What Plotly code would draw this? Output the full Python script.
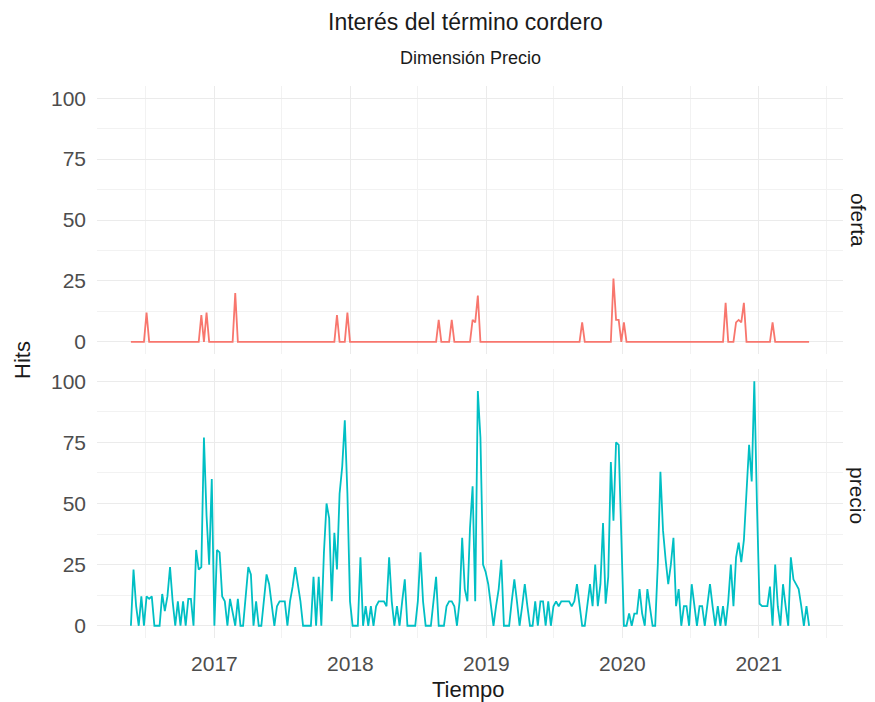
import pandas as pd
import plotly.graph_objects as go

# ---------------- data ----------------
start_date = "2016-05-22"
n_weeks = 261
fechas = pd.date_range(start_date, periods=n_weeks, freq="7D")

oferta = [
    0, 0, 0, 0, 0, 0, 12, 0, 0, 0,
    0, 0, 0, 0, 0, 0, 0, 0, 0, 0,
    0, 0, 0, 0, 0, 0, 0, 11, 0, 12,
    0, 0, 0, 0, 0, 0, 0, 0, 0, 0,
    20, 0, 0, 0, 0, 0, 0, 0, 0, 0,
    0, 0, 0, 0, 0, 0, 0, 0, 0, 0,
    0, 0, 0, 0, 0, 0, 0, 0, 0, 0,
    0, 0, 0, 0, 0, 0, 0, 0, 0, 11,
    0, 0, 0, 12, 0, 0, 0, 0, 0, 0,
    0, 0, 0, 0, 0, 0, 0, 0, 0, 0,
    0, 0, 0, 0, 0, 0, 0, 0, 0, 0,
    0, 0, 0, 0, 0, 0, 0, 0, 9, 0,
    0, 0, 0, 9, 0, 0, 0, 0, 0, 0,
    0, 9, 8, 19, 0, 0, 0, 0, 0, 0,
    0, 0, 0, 0, 0, 0, 0, 0, 0, 0,
    0, 0, 0, 0, 0, 0, 0, 0, 0, 0,
    0, 0, 0, 0, 0, 0, 0, 0, 0, 0,
    0, 0, 0, 8, 0, 0, 0, 0, 0, 0,
    0, 0, 0, 0, 0, 26, 9, 9, 0, 8,
    0, 0, 0, 0, 0, 0, 0, 0, 0, 0,
    0, 0, 0, 0, 0, 0, 0, 0, 0, 0,
    0, 0, 0, 0, 0, 0, 0, 0, 0, 0,
    0, 0, 0, 0, 0, 0, 0, 0, 16, 0,
    0, 0, 8, 9, 8, 16, 0, 0, 0, 0,
    0, 0, 0, 0, 0, 0, 8, 0, 0, 0,
    0, 0, 0, 0, 0, 0, 0, 0, 0, 0,
    0,
]

precio = [
    0, 23, 8, 0, 12, 0, 12, 11, 12, 0,
    0, 0, 13, 6, 12, 24, 10, 0, 10, 0,
    10, 0, 11, 11, 0, 31, 23, 24, 77, 45,
    25, 60, 0, 31, 30, 12, 10, 0, 11, 5,
    0, 11, 0, 0, 12, 24, 21, 0, 10, 0,
    0, 10, 21, 17, 8, 0, 8, 10, 10, 10,
    0, 10, 16, 24, 17, 10, 0, 0, 0, 0,
    20, 0, 20, 0, 30, 50, 44, 10, 38, 23,
    54, 65, 84, 54, 10, 0, 0, 0, 28, 0,
    8, 0, 8, 0, 8, 10, 10, 10, 8, 28,
    10, 0, 8, 0, 10, 19, 0, 0, 0, 0,
    10, 30, 10, 0, 0, 0, 10, 20, 0, 0,
    0, 8, 10, 10, 8, 0, 10, 36, 15, 10,
    40, 57, 10, 96, 77, 25, 22, 17, 8, 0,
    8, 15, 27, 0, 0, 0, 10, 19, 10, 0,
    8, 17, 8, 0, 0, 10, 0, 10, 10, 0,
    10, 0, 8, 10, 8, 10, 10, 10, 10, 8,
    10, 17, 8, 0, 0, 8, 17, 8, 25, 8,
    17, 42, 9, 20, 67, 43, 75, 74, 35, 0,
    0, 5, 0, 5, 5, 15, 5, 0, 15, 8,
    0, 0, 25, 63, 39, 27, 17, 25, 36, 8,
    15, 0, 8, 8, 0, 17, 8, 0, 8, 8,
    0, 8, 17, 8, 0, 8, 0, 8, 0, 10,
    25, 8, 28, 34, 26, 35, 53, 74, 59, 100,
    50, 9, 8, 8, 8, 16, 0, 25, 8, 0,
    17, 8, 0, 28, 19, 17, 15, 8, 0, 8,
    0,
]

year_ticks = ["2017-01-01", "2018-01-01", "2019-01-01", "2020-01-01", "2021-01-01"]
year_labels = ["2017", "2018", "2019", "2020", "2021"]
half_year_ticks = ["2016-07-01", "2017-07-01", "2018-07-01", "2019-07-01",
                   "2020-07-01", "2021-07-01"]
y_ticks = [0, 25, 50, 75, 100]
y_minor = [12.5, 37.5, 62.5, 87.5]

title = "Interés del término cordero"
subtitle = "Dimensión Precio"
facet_labels = ["oferta", "precio"]

# ---------------- style ----------------
FONT = "Liberation Sans, Arial, Helvetica, sans-serif"
GRID = "#EBEBEB"
GRID_MINOR = "#F2F2F2"
COL_OFERTA = "#F8766D"
COL_PRECIO = "#00BFC4"

W, H = 875, 702
ML, MR, MT, MB = 97, 32, 86, 64
PH = H - MT - MB
PW = W - ML - MR


def py(p):
    return (H - MB - p) / PH


def px(p):
    return (p - ML) / PW


fig = go.Figure()
fig.add_trace(go.Scatter(x=fechas, y=oferta, mode="lines", xaxis="x2", yaxis="y2",
                         line=dict(color=COL_OFERTA, width=1.8), showlegend=False,
                         name="oferta"))
fig.add_trace(go.Scatter(x=fechas, y=precio, mode="lines", xaxis="x", yaxis="y",
                         line=dict(color=COL_PRECIO, width=1.8), showlegend=False,
                         name="precio"))

xrange = ["2016-02-21", "2021-08-15"]
xcommon = dict(range=xrange, tickmode="array", tickvals=year_ticks, ticktext=year_labels,
               showgrid=True, gridcolor=GRID, gridwidth=1.1, zeroline=False,
               showline=False, ticks="",
               minor=dict(tickmode="array", tickvals=half_year_ticks, showgrid=True,
                          gridcolor=GRID_MINOR, gridwidth=0.8, ticks=""),
               tickfont=dict(family=FONT, size=21, color="#4D4D4D"))
ycommon = dict(range=[-5, 105], tickmode="array", tickvals=y_ticks,
               showgrid=True, gridcolor=GRID, gridwidth=1.1, zeroline=False,
               showline=False, ticks="", ticklabelstandoff=10,
               minor=dict(tickmode="array", tickvals=y_minor, showgrid=True,
                          gridcolor=GRID_MINOR, gridwidth=0.8, ticks=""),
               tickfont=dict(family=FONT, size=21, color="#4D4D4D"))

top_dom = [py(354), 1.0]
bot_dom = [0.0, py(369)]

fig.update_layout(
    width=W, height=H,
    margin=dict(l=ML, r=MR, t=MT, b=MB),
    paper_bgcolor="white", plot_bgcolor="white",
    xaxis=dict(domain=[0, 1], anchor="y", ticklabelstandoff=11, **xcommon),
    xaxis2=dict(domain=[0, 1], anchor="y2", matches="x", showticklabels=False, **xcommon),
    yaxis=dict(domain=bot_dom, anchor="x", **ycommon),
    yaxis2=dict(domain=top_dom, anchor="x2", **ycommon),
    showlegend=False,
)

ann = []
ann.append(dict(text=title, x=px(465), y=py(22), xref="paper", yref="paper",
                showarrow=False, xanchor="center", yanchor="middle",
                font=dict(family=FONT, size=23, color="#1A1A1A")))
ann.append(dict(text=subtitle, x=px(470), y=py(58), xref="paper", yref="paper",
                showarrow=False, xanchor="center", yanchor="middle",
                font=dict(family=FONT, size=18, color="#1A1A1A")))
ann.append(dict(text="Hits", x=px(22), y=py(360), xref="paper", yref="paper",
                showarrow=False, xanchor="center", yanchor="middle", textangle=-90,
                font=dict(family=FONT, size=22, color="#1A1A1A")))
ann.append(dict(text="Tiempo", x=px(468), y=py(689), xref="paper", yref="paper",
                showarrow=False, xanchor="center", yanchor="middle",
                font=dict(family=FONT, size=22, color="#1A1A1A")))
ann.append(dict(text=facet_labels[0], x=px(858), y=py(220), xref="paper", yref="paper",
                showarrow=False, xanchor="center", yanchor="middle", textangle=90,
                font=dict(family=FONT, size=21, color="#1A1A1A")))
ann.append(dict(text=facet_labels[1], x=px(858), y=py(496), xref="paper", yref="paper",
                showarrow=False, xanchor="center", yanchor="middle", textangle=90,
                font=dict(family=FONT, size=21, color="#1A1A1A")))
fig.update_layout(annotations=ann)

fig.write_html("out.html", config={"displayModeBar": False},
               post_script="document.body.style.margin='0px';")
